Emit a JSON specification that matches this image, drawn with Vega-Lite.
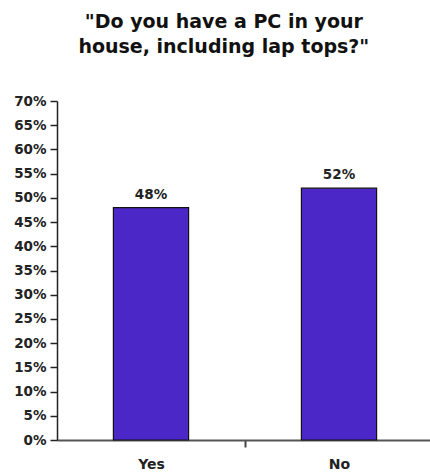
{
  "$schema": "https://vega.github.io/schema/vega-lite/v6.json",
  "autosize": "none",
  "padding": {"left": 57, "top": 101, "right": 0, "bottom": 35},
  "width": 376,
  "height": 339,
  "background": "white",
  "config": {"view": {"stroke": null}, "font": "DejaVu Sans"},
  "title": {
    "text": ["\"Do you have a PC in your", "house, including lap tops?\""],
    "font": "DejaVu Sans",
    "fontSize": 19,
    "fontWeight": "bold",
    "color": "#111111",
    "anchor": "middle",
    "frame": "bounds",
    "offset": 37,
    "lineHeight": 25
  },
  "data": {"values": [
    {"answer": "Yes", "pct": 0.48},
    {"answer": "No", "pct": 0.52}
  ]},
  "encoding": {
    "x": {
      "field": "answer", "type": "nominal", "sort": ["Yes", "No"],
      "scale": {"paddingInner": 0.6, "paddingOuter": 0.3},
      "axis": {
        "title": null, "labelAngle": 0, "labelFont": "DejaVu Sans",
        "labelFontSize": 14, "labelFontWeight": "bold", "labelColor": "#222222",
        "domainColor": "#555555", "domainWidth": 2, "tickColor": "#444444",
        "tickWidth": 2, "tickOffset": 94, "labelOffset": -94, "tickSize": 7, "labelPadding": 10
      }
    },
    "y": {
      "field": "pct", "type": "quantitative",
      "scale": {"domain": [0, 0.7]},
      "axis": {
        "title": null, "format": ".0%", "values": [0,0.05,0.1,0.15,0.2,0.25,0.3,0.35,0.4,0.45,0.5,0.55,0.6,0.65,0.7],
        "grid": false, "labelFont": "DejaVu Sans", "labelFontSize": 13.5,
        "labelFontWeight": "bold", "labelColor": "#222222",
        "domainColor": "#222222", "domainWidth": 1.5, "tickColor": "#222222",
        "tickWidth": 1.5, "tickSize": 7, "labelPadding": 4
      }
    }
  },
  "layer": [
    {"mark": {"type": "bar", "color": "#4B27C8", "stroke": "#111111", "strokeWidth": 1.2}},
    {"mark": {"type": "text", "baseline": "alphabetic", "dy": -9, "font": "DejaVu Sans", "fontSize": 13.5, "fontWeight": "bold", "color": "#222222"},
     "encoding": {"text": {"field": "pct", "type": "quantitative", "format": ".0%"}}}
  ]
}
